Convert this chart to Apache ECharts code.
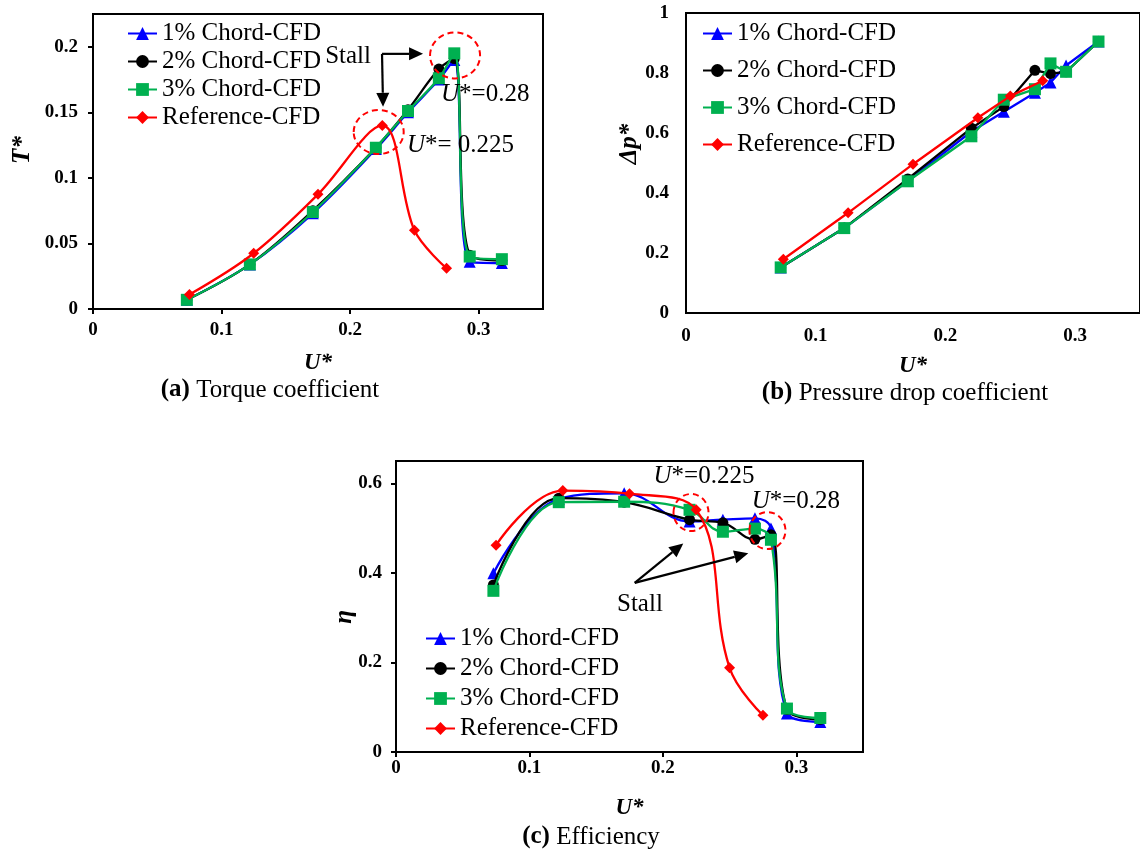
<!DOCTYPE html>
<html>
<head>
<meta charset="utf-8">
<script src="https://cdn.jsdelivr.net/npm/echarts@6/dist/echarts.min.js"></script>
<style>
  html, body { margin: 0; padding: 0; background: #fff; }
  #chart { width: 1140px; height: 851px; }
</style>
</head>
<body>
<div id="chart"></div>
<script>
// U* values of the sampled points
const uChord = [0.073, 0.122, 0.171, 0.22, 0.245, 0.269, 0.281, 0.293, 0.318];
const uRef = [0.075, 0.125, 0.175, 0.225, 0.25, 0.275];

const seriesNames = ['1% Chord-CFD', '2% Chord-CFD', '3% Chord-CFD', 'Reference-CFD'];

// (a) torque coefficient T*
const torque1 = [0.007, 0.034, 0.073, 0.122, 0.150, 0.175, 0.190, 0.036, 0.035];
const torque2 = [0.007, 0.034, 0.075, 0.123, 0.152, 0.183, 0.191, 0.041, 0.037];
const torque3 = [0.007, 0.034, 0.074, 0.123, 0.151, 0.176, 0.195, 0.040, 0.038];
const torqueRef = [0.011, 0.0425, 0.0875, 0.140, 0.060, 0.031];

// (b) pressure drop coefficient Δp*
const dp1 = [0.152, 0.283, 0.440, 0.605, 0.671, 0.734, 0.768, 0.825, 0.905];
const dp2 = [0.152, 0.283, 0.447, 0.616, 0.688, 0.809, 0.798, 0.804, 0.905];
const dp3 = [0.152, 0.283, 0.439, 0.589, 0.711, 0.746, 0.832, 0.804, 0.905];
const dpRef = [0.179, 0.334, 0.496, 0.651, 0.723, 0.774];

// (c) efficiency η
const eta1 = [0.399, 0.565, 0.578, 0.515, 0.519, 0.522, 0.499, 0.086, 0.067];
const eta2 = [0.373, 0.567, 0.558, 0.519, 0.512, 0.475, 0.485, 0.095, 0.073];
const eta3 = [0.360, 0.558, 0.559, 0.541, 0.492, 0.499, 0.474, 0.097, 0.076];
const etaRef = [0.462, 0.584, 0.577, 0.541, 0.188, 0.082];

// annotations, in data units of each panel: [panel, u, value]
const stallCircles = [[0, 0.2222, 0.135], [0, 0.2816, 0.1934], [2, 0.2211, 0.535], [2, 0.2784, 0.4946]];
const circleSize = [[25, 22], [25, 23], [17.5, 18.5], [18, 18.5]];
const noteTexts = [
  [0, 0.2707, 0.164, '{i|U}*=0.28'],
  [0, 0.2442, 0.1245, '{i|U}*= 0.225'],
  [2, 0.193, 0.6165, '{i|U}*=0.225'],
  [2, 0.2666, 0.5606, '{i|U}*=0.28']
];
const stallLabels = [[0, 0.1984, 0.193], [2, 0.1828, 0.330]];
// arrows: [panel, fromU, fromV, toU, toV]
const arrows = [
  [0, 0.2248, 0.1946, 0.2567, 0.1946],
  [0, 0.2248, 0.1946, 0.2256, 0.1542],
  [2, 0.1789, 0.3779, 0.2153, 0.466],
  [2, 0.1789, 0.3779, 0.264, 0.4437]
];

const colors = ['#0000FF', '#000000', '#00B050', '#FF0000'];
const symbols = ['triangle', 'circle', 'rect', 'diamond'];
const symbolSizes = [12, 11, 12, 11];
const FONT = 'Liberation Serif';

const chart = echarts.init(document.getElementById('chart'));

function pairs(xs, ys) {
  return xs.map((x, i) => [x, ys[i]]);
}

function makeSeries(idx, values, smooth) {
  const out = [];
  values.forEach((ys, k) => {
    out.push({
      name: seriesNames[k],
      type: 'line',
      xAxisIndex: idx,
      yAxisIndex: idx,
      data: pairs(k === 3 ? uRef : uChord, ys),
      smooth: smooth,
      symbol: symbols[k],
      symbolSize: symbolSizes[k],
      lineStyle: { color: colors[k], width: 2.3 },
      itemStyle: { color: colors[k] },
      z: 3 + k
    });
  });
  return out;
}

function xAxis(idx, margin, tick) {
  return {
    type: 'value', gridIndex: idx, min: 0, max: 0.35, interval: 0.1,
    splitLine: { show: false },
    axisLine: { onZero: false, lineStyle: { color: '#000', width: 2 } },
    axisTick: { show: tick, length: 5, lineStyle: { color: '#000', width: 2 } },
    axisLabel: { showMaxLabel: false, margin: margin, color: '#000', fontFamily: FONT, fontWeight: 'bold', fontSize: 19 },
    name: 'U*', nameLocation: 'middle', nameGap: [43, 42, 45][idx],
    nameTextStyle: { color: '#000', fontFamily: FONT, fontWeight: 'bold', fontStyle: 'italic', fontSize: 23 }
  };
}

function yAxis(idx, max, interval, margin, tick, showMax) {
  return {
    type: 'value', gridIndex: idx, min: 0, max: max, interval: interval,
    splitLine: { show: false },
    axisLine: { onZero: false, lineStyle: { color: '#000', width: 2 } },
    axisTick: { show: tick, length: 5, lineStyle: { color: '#000', width: 2 } },
    axisLabel: { showMaxLabel: showMax, margin: margin, color: '#000', fontFamily: FONT, fontWeight: 'bold', fontSize: 19 }
  };
}

function legend(left, top, gap) {
  return {
    orient: 'vertical', left: left, top: top, itemGap: gap,
    itemWidth: 29, itemHeight: 16, padding: 0, selectedMode: false,
    data: seriesNames,
    textStyle: { color: '#000', fontFamily: FONT, fontSize: 25, lineHeight: 25 }
  };
}

const gridStyle = { show: true, borderColor: '#000', borderWidth: 2, containLabel: false };

const option = {
  animation: false,
  backgroundColor: '#fff',
  grid: [
    Object.assign({ left: 93, top: 14, width: 450, height: 295 }, gridStyle),
    Object.assign({ left: 686, top: 13, width: 464, height: 300 }, gridStyle),
    Object.assign({ left: 396, top: 461, width: 467, height: 291 }, gridStyle)
  ],
  xAxis: [xAxis(0, 12, true), xAxis(1, 14, false), xAxis(2, 7, true)],
  yAxis: [
    yAxis(0, 0.225, 0.05, 15, true, false),
    yAxis(1, 1, 0.2, 17, false, true),
    yAxis(2, 0.65, 0.2, 14, true, false)
  ],
  legend: [legend(127, 21, 3), legend(702, 21, 12), legend(425, 626, 5)],
  series: [].concat(
    makeSeries(0, [torque1, torque2, torque3, torqueRef], 0.35),
    makeSeries(1, [dp1, dp2, dp3, dpRef], false),
    makeSeries(2, [eta1, eta2, eta3, etaRef], 0.4)
  )
};

chart.setOption(option);

// annotations and labels drawn on top of the plots
const px = (g, u, v) => chart.convertToPixel({ gridIndex: g }, [u, v]);
const graphics = [];

stallCircles.forEach((c, i) => {
  const p = px(c[0], c[1], c[2]);
  graphics.push({
    type: 'ellipse', z: 20,
    shape: { cx: p[0], cy: p[1], rx: circleSize[i][0], ry: circleSize[i][1] },
    style: { fill: 'transparent', stroke: '#FF0000', lineWidth: 2, lineDash: [6, 4] }
  });
});

noteTexts.forEach(t => {
  const p = px(t[0], t[1], t[2]);
  graphics.push({
    type: 'text', z: 20, x: p[0], y: p[1],
    style: {
      text: t[3], fill: '#000', fontFamily: FONT, fontSize: 25,
      align: 'left', verticalAlign: 'middle',
      rich: { i: { fontStyle: 'italic', fontFamily: FONT, fontSize: 25 } }
    }
  });
});

stallLabels.forEach(s => {
  const p = px(s[0], s[1], s[2]);
  graphics.push({
    type: 'text', z: 20, x: p[0], y: p[1],
    style: { text: 'Stall', fill: '#000', fontFamily: FONT, fontSize: 25, align: 'center', verticalAlign: 'middle' }
  });
});

arrows.forEach(a => {
  const p0 = px(a[0], a[1], a[2]);
  const p1 = px(a[0], a[3], a[4]);
  const dx = p1[0] - p0[0], dy = p1[1] - p0[1];
  const len = Math.sqrt(dx * dx + dy * dy);
  const ux = dx / len, uy = dy / len;
  const hl = 14, hw = 6.5;
  const bx = p1[0] - ux * hl, by = p1[1] - uy * hl;
  graphics.push({
    type: 'polyline', z: 20,
    shape: { points: [p0, [bx, by]] },
    style: { stroke: '#000', lineWidth: 2.2, fill: null }
  });
  graphics.push({
    type: 'polygon', z: 20,
    shape: { points: [p1, [bx - uy * hw, by + ux * hw], [bx + uy * hw, by - ux * hw]] },
    style: { fill: '#000' }
  });
});

// rotated y axis titles
const yTitles = [['{t|T*}', 23, 150], ['{t|Δp*}', 630, 144], ['{t|η}', 345, 617]];
yTitles.forEach(t => {
  graphics.push({
    type: 'text', z: 20, x: t[1], y: t[2], rotation: Math.PI / 2,
    style: {
      text: t[0], align: 'center', verticalAlign: 'middle', fill: '#000',
      rich: { t: { fontFamily: FONT, fontSize: 25, fontWeight: 'bold', fontStyle: 'italic', fill: '#000' } }
    }
  });
});

// panel captions
const captions = [['(a)', 'Torque coefficient', 270, 390], ['(b)', 'Pressure drop coefficient', 905, 393], ['(c)', 'Efficiency', 591, 837]];
captions.forEach(c => {
  graphics.push({
    type: 'text', z: 20, x: c[2], y: c[3],
    style: {
      text: '{b|' + c[0] + '} ' + c[1], align: 'center', verticalAlign: 'middle',
      fill: '#000', fontFamily: FONT, fontSize: 25,
      rich: { b: { fontFamily: FONT, fontSize: 25, fontWeight: 'bold', fill: '#000' } }
    }
  });
});

chart.setOption({ graphic: graphics });
</script>
</body>
</html>
